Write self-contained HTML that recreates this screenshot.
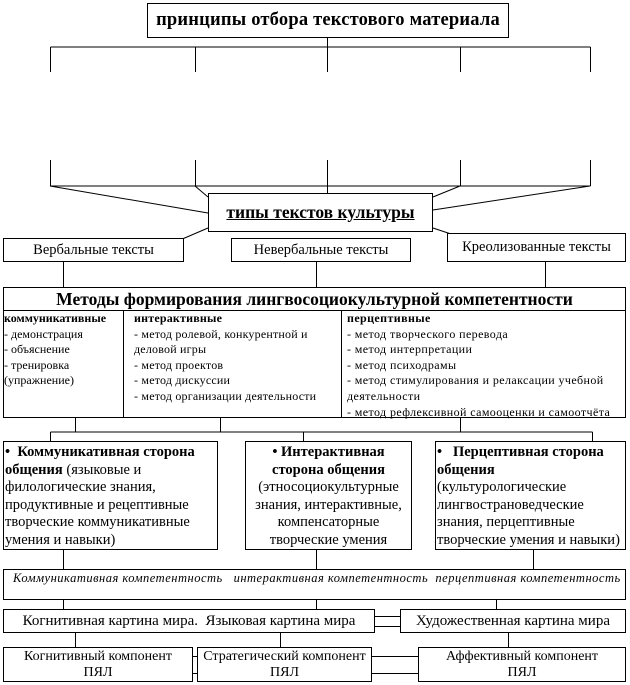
<!DOCTYPE html>
<html><head><meta charset="utf-8"><style>
body{margin:0;width:630px;height:685px;background:#fff;position:relative;font-family:"Liberation Serif",serif;color:#000;overflow:hidden}
.b{position:absolute;border:1px solid #000;background:#fff;box-sizing:border-box}
.c{display:flex;align-items:center;justify-content:center;text-align:center}
svg{position:absolute;left:0;top:0}
.m{font-size:12px;line-height:15.6px;white-space:nowrap;letter-spacing:0.4px}
</style></head><body>
<svg width="630" height="685" stroke="#000" stroke-width="1" fill="none">
<path d="M327.5 38V47M50.5 47H590.5M50.5 47V72M195.5 47V72M327.5 47V72M460.5 47V72M590.5 47V72
M50.5 160V186M195.5 160V186M327.5 160V186M460.5 160V186M590.5 160V186M50.5 186H590.5M327.5 186V193
M50 186L208 213M195 186L208 197M460 186L433 197M590 186L433 210M208 228L180 240M433 228L460 237
M63.5 262V287M316.5 262V287M545.5 262V287
M75.5 418V432M220.5 418V432M460.5 418V432M50.5 432H592.5M50.5 432V441M303.5 432V441M592.5 432V441
M63.5 550V569M316.5 550V569M533.5 550V569
M63.5 600V609M316.5 600V609M496.5 600V609
M375 616.5H400M375 626.5H400
M75.5 633V647M280.5 633V647M508.5 633V647
M193 656.5H197M193 673.5H197M372 656.5H418M372 673.5H418"/>
</svg>
<div class="b c" style="left:147px;top:3px;width:362px;height:35px;font-weight:bold;font-size:18.5px;letter-spacing:0.2px">принципы отбора текстового материала</div>
<div class="b c" style="left:208px;top:193px;width:225px;height:39px;font-weight:bold;font-size:17.5px;text-decoration:underline">типы текстов культуры</div>
<div class="b c" style="left:3px;top:238px;width:181px;height:24px;font-size:14.5px">Вербальные тексты</div>
<div class="b c" style="left:231px;top:238px;width:180px;height:24px;font-size:14.5px">Невербальные тексты</div>
<div class="b c" style="left:447px;top:233px;width:179px;height:29px;font-size:14.5px">Креолизованные тексты</div>
<div class="b" style="left:3px;top:287px;width:623px;height:131px">
<div class="c" style="height:22px;border-bottom:1px solid #000;font-weight:bold;font-size:17.5px;white-space:nowrap">Методы формирования лингвосоциокультурной компетентности</div>
<div class="m" style="position:absolute;left:0;top:23px;width:119px;height:106px;border-right:1px solid #000;letter-spacing:0"><b>коммуникативные</b><br>- демонстрация<br>- объяснение<br>- тренировка<br>(упражнение)</div>
<div class="m" style="position:absolute;left:120px;top:23px;width:218px;height:106px;border-right:1px solid #000;padding-left:10px;box-sizing:border-box;white-space:normal;letter-spacing:0.2px"><b>интерактивные</b><br>- метод ролевой, конкурентной и деловой игры<br>- метод проектов<br>- метод дискуссии<br>- метод организации деятельности</div>
<div class="m" style="position:absolute;left:343px;top:23px;width:280px;white-space:normal"><b>перцептивные</b><br>- метод творческого перевода<br>- метод интерпретации<br>- метод психодрамы<br>- метод стимулирования и релаксации учебной деятельности<br><span style="white-space:nowrap">- метод рефлексивной самооценки и самоотчёта</span></div>
</div>
<div class="b" style="left:3px;top:441px;width:215px;height:109px;font-size:14.5px;line-height:17.5px;padding:2px 1px"><b>•&nbsp; Коммуникативная сторона общения</b> (языковые и филологические знания, продуктивные и рецептивные творческие коммуникативные умения и навыки)</div>
<div class="b" style="left:245px;top:441px;width:167px;height:109px;font-size:14.5px;line-height:17.5px;padding:2px 1px;text-align:center"><b>• Интерактивная сторона общения</b><br>(этносоциокультурные знания, интерактивные, компенсаторные творческие умения</div>
<div class="b" style="left:435px;top:441px;width:191px;height:109px;font-size:14.5px;line-height:17.5px;padding:2px 1px"><b>•&nbsp;&nbsp; Перцептивная сторона общения</b><br>(культурологические лингвострановедческие знания, перцептивные творческие умения и навыки)</div>
<div class="b" style="left:3px;top:569px;width:623px;height:31px;font-size:12.5px;font-style:italic;padding:1px 0 0 9px;white-space:nowrap;letter-spacing:0.5px">Коммуникативная компетентность &nbsp; интерактивная компетентность &nbsp;перцептивная компетентность</div>
<div class="b c" style="left:3px;top:609px;width:372px;height:24px;font-size:15px">Когнитивная картина мира. &nbsp;Языковая картина мира</div>
<div class="b c" style="left:400px;top:609px;width:226px;height:24px;font-size:15px">Художественная картина мира</div>
<div class="b c" style="left:3px;top:647px;width:190px;height:35px;font-size:14px;line-height:16px">Когнитивный компонент<br>ПЯЛ</div>
<div class="b c" style="left:197px;top:647px;width:175px;height:35px;font-size:14px;line-height:16px">Стратегический компонент<br>ПЯЛ</div>
<div class="b c" style="left:418px;top:647px;width:208px;height:35px;font-size:14px;line-height:16px">Аффективный компонент<br>ПЯЛ</div>
</body></html>
